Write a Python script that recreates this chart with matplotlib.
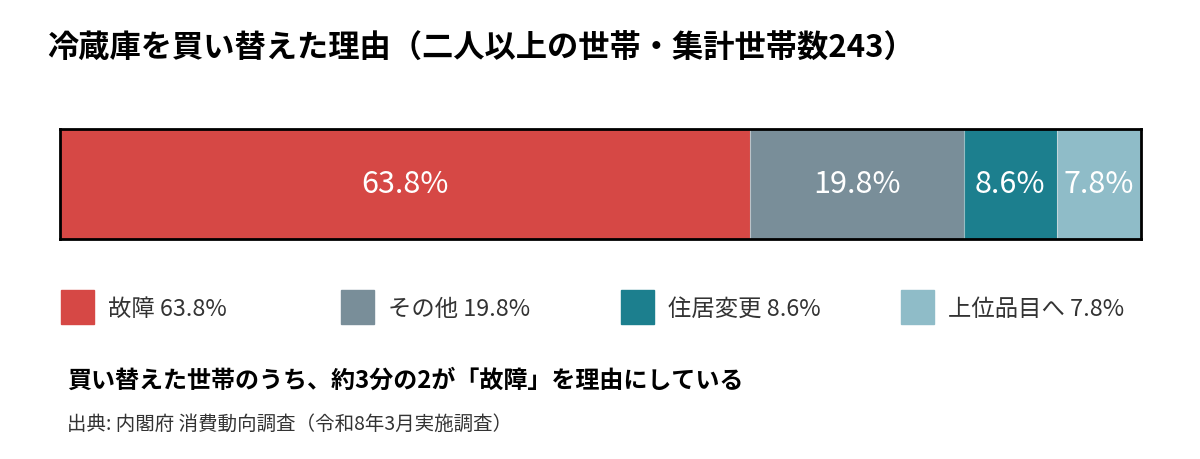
import matplotlib

matplotlib.use("Agg")
import matplotlib.pyplot as plt
from matplotlib.patches import Rectangle

plt.rcParams["font.family"] = ["Noto Sans CJK JP", "DejaVu Sans"]

# Data
reasons = ["故障", "その他", "住居変更", "上位品目へ"]
shares = [63.8, 19.8, 8.6, 7.8]
colors = ["#D64845", "#798E99", "#1C7F8E", "#8FBCC8"]

TITLE = "冷蔵庫を買い替えた理由（二人以上の世帯・集計世帯数243）"
SUBTITLE = "買い替えた世帯のうち、約3分の2が「故障」を理由にしている"
SOURCE = "出典: 内閣府 消費動向調査（令和8年3月実施調査）"

W, H = 1200, 460
fig = plt.figure(figsize=(W / 100, H / 100), dpi=100)

# Stacked horizontal bar
ax = fig.add_axes([60 / W, 1 - 240 / H, (1141 - 60) / W, 110 / H])
left = 0
for reason, share, color in zip(reasons, shares, colors):
    ax.barh(0, share, left=left, height=1, color=color, edgecolor="none")
    ax.text(left + share / 2, 0, f"{share}%", ha="center", va="center",
            color="white", fontsize=22)
    left += share
# thin separators between segments
edge = 0
for share in shares[:-1]:
    edge += share
    ax.axvline(edge, color="#E8E8E8", linewidth=0.8, alpha=0.6)
ax.set_xlim(0, sum(shares))
ax.set_ylim(-0.5, 0.5)
ax.set_xticks([])
ax.set_yticks([])
for spine in ax.spines.values():
    spine.set_linewidth(2)
    spine.set_color("black")

# Legend with squares
x0 = 61
for i, (reason, share, color) in enumerate(zip(reasons, shares, colors)):
    x = x0 + i * 280
    fig.patches.append(Rectangle((x / W, 1 - 325 / H), 33 / W, 34 / H,
                                 transform=fig.transFigure, color=color))
    fig.text((x + 47) / W, 1 - 309 / H, f"{reason} {share}%",
             ha="left", va="center", fontsize=16.8, color="#333333")

fig.text(47 / W, 1 - 48 / H, TITLE, ha="left", va="center",
         fontsize=22.5, fontweight="bold", color="black")
fig.text(67 / W, 1 - 381 / H, SUBTITLE, ha="left", va="center",
         fontsize=17.3, fontweight="bold", color="black")
fig.text(67 / W, 1 - 424 / H, SOURCE, ha="left", va="center",
         fontsize=14, color="#333333")

fig.savefig("out.png", dpi=100, facecolor="white")
